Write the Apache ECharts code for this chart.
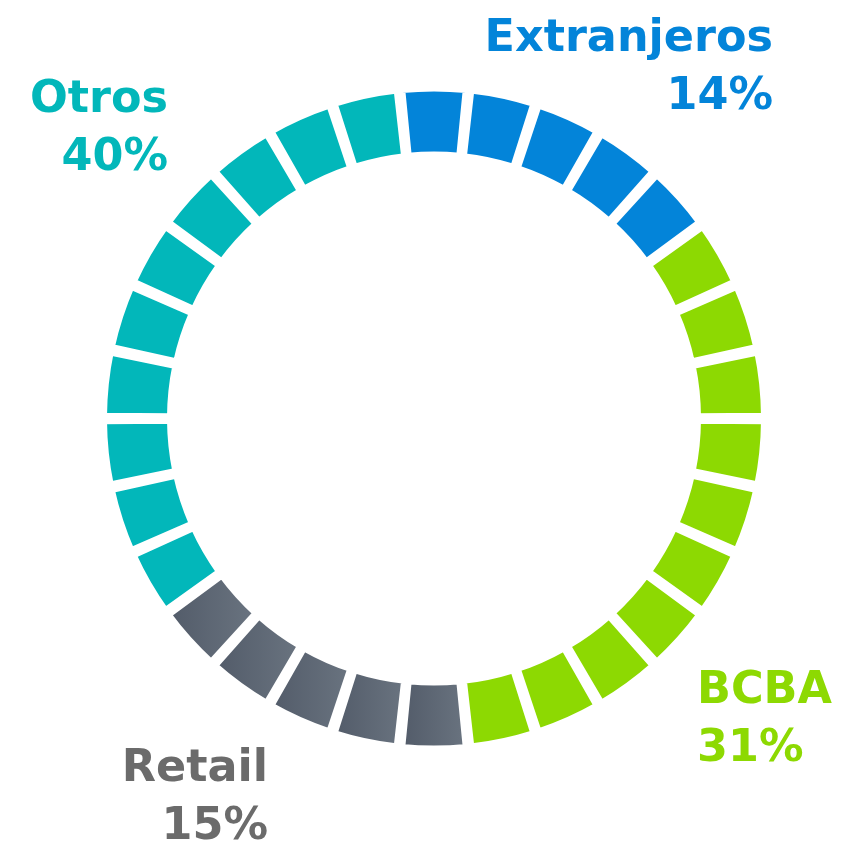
<!DOCTYPE html>
<html>
<head>
<meta charset="utf-8">
<script src="https://cdn.jsdelivr.net/npm/echarts@6/dist/echarts.min.js"></script>
<style>
  html, body { margin: 0; padding: 0; background: #fff; }
  #chart { width: 849px; height: 842px; }
</style>
</head>
<body>
<div id="chart"></div>
<script>
// data
const categories = ["Extranjeros", "BCBA", "Retail", "Otros"];
const shares = [14, 31, 15, 40];          // printed percentages
const segment_counts = [5, 10, 5, 10];    // blocks drawn per category (30 in total)

// styling
const seg_colors = [
    "#0384d9",
    "#8dd902",
    {type: "linear", x: 0, y: 0, x2: 1, y2: 0,
     colorStops: [{offset: 0, color: "#515a68"}, {offset: 1, color: "#6b7581"}]},
    "#02b7ba"
];
const text_colors = ["#0384d9", "#8dd902", "#6b6b6b", "#02b7ba"];
// [x, y of first line, align] for each label block
const label_pos = [
    [773, 39, "right"],
    [697, 691, "left"],
    [268, 769, "right"],
    [168, 100, "right"]
];
const line_gap = 58;
const label_font = "bold 44.5px 'DejaVu Sans'";


function buildSegments(){
    const out = [];
    categories.forEach((cat, i) => {
        for(let k = 0; k < segment_counts[i]; k++){
            out.push({value: 1, name: cat, itemStyle: {color: seg_colors[i]}});
        }
    });
    return out;
}

function buildLabels(){
    const els = [];
    categories.forEach((cat, i) => {
        const [x, y, align] = label_pos[i];
        [cat, shares[i] + "%"].forEach((txt, line) => {
            els.push({
                type: "text", x: x, y: y + line * line_gap, silent: true,
                style: {text: txt, fill: text_colors[i], font: label_font,
                        align: align, verticalAlign: "middle"}
            });
        });
    });
    return els;
}

const chart = echarts.init(document.getElementById("chart"), null, {renderer: "canvas"});
chart.setOption({
    animation: false,
    series: [{
        type: "pie",
        center: [434, 418.5],
        radius: [263.5, 330.5],
        startAngle: 96,
        clockwise: true,
        padAngle: 0.8,
        silent: true,
        label: {show: false},
        labelLine: {show: false},
        itemStyle: {borderColor: "#fff", borderWidth: 7},
        emphasis: {disabled: true},
        data: buildSegments()
    }],
    graphic: buildLabels()
});
</script>
</body>
</html>
